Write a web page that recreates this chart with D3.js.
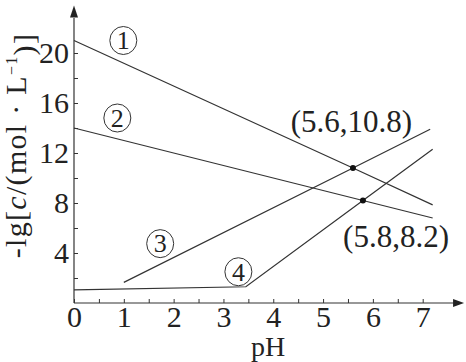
<!DOCTYPE html>
<html>
<head>
<meta charset="utf-8">
<script src="https://cdn.jsdelivr.net/npm/d3@7"></script>
<style>
  body { margin: 0; background: #fff; }
  svg { display: block; }
  .tick line { stroke: #333; stroke-width: 1; }
  .curve { fill: none; stroke: #333; stroke-width: 1.2; }
</style>
</head>
<body>
<div class="chart"></div>
<script>
var width = 466
var height = 362
var serif = "'Liberation Serif', 'Times New Roman', 'DejaVu Serif', serif"

// data
var line1 = [[0, 21], [5.6, 10.8], [7.2, 7.85]];
var line2 = [[0, 14], [5.8, 8.2], [7.2, 6.8]];
var line3 = [[1, 1.65], [5.6, 10.8], [7.15, 13.9]];
var line4 = [[0, 1.05], [3.45, 1.3], [5.8, 8.2], [7.2, 12.3]];
var curves = [line1, line2, line3, line4];
var curveNames = ["1", "2", "3", "4"];
var marked = [[5.6, 10.8], [5.8, 8.2]];
var xTicks = [0, 0.5, 1, 1.5, 2, 2.5, 3, 3.5, 4, 4.5, 5, 5.5, 6, 6.5, 7];
var yTicks = [2, 4, 6, 8, 10, 12, 14, 16, 18, 20];

var x = d3.scaleLinear().domain([0, 7]).range([74, 422.7]);
var y = d3.scaleLinear().domain([0, 20]).range([303, 53]);

var svg = d3.select(".chart").append("svg")
            .attr("width", width)
            .attr("height", height);

// axes
var xAxis = d3.axisBottom(x)
              .tickValues(xTicks)
              .tickSize(-4)
              .tickPadding(3)
              .tickFormat(function(d) { return d % 1 === 0 ? d : ""; });
var gx = svg.append("g").attr("transform", "translate(0," + y(0) + ")").call(xAxis);
gx.select(".domain").remove();
gx.selectAll("text").style("font-size", "30px").style("font-family", serif).attr("fill", "#222");

var yAxis = d3.axisLeft(y)
              .tickValues(yTicks)
              .tickSize(-4)
              .tickPadding(5)
              .tickFormat(function(d) { return d % 4 === 0 ? d : ""; });
var gy = svg.append("g").attr("transform", "translate(" + x(0) + ",0)").call(yAxis);
gy.select(".domain").remove();
gy.selectAll("text").style("font-size", "30px").style("font-family", serif).attr("fill", "#222");

// axis lines with arrows
svg.append("line")
   .attr("x1", x(0)).attr("y1", y(0))
   .attr("x2", x(7.65)).attr("y2", y(0))
   .attr("stroke", "#333").attr("stroke-width", 1.2);
svg.append("path")
   .attr("d", "M" + x(7.83) + "," + y(0) + "l-11,-4l0,8z")
   .attr("fill", "#222");
svg.append("line")
   .attr("x1", x(0)).attr("y1", y(0))
   .attr("x2", x(0)).attr("y2", y(22.8))
   .attr("stroke", "#333").attr("stroke-width", 1.2);
svg.append("path")
   .attr("d", "M" + x(0) + "," + y(23.8) + "l-4,12l8,0z")
   .attr("fill", "#222");

// curves
var lineGen = d3.line()
                .x(function(d) { return x(d[0]); })
                .y(function(d) { return y(d[1]); });

svg.selectAll("path.curve")
   .data(curves)
   .enter()
   .append("path")
   .attr("class", "curve")
   .attr("d", lineGen);

// circled curve names
var namePos = [[0.99, 21.0], [0.87, 14.8], [1.73, 4.75], [3.3, 2.5]];
var names = svg.selectAll("g.name")
               .data(curveNames)
               .enter()
               .append("g")
               .attr("class", "name")
               .attr("transform", function(d, i) {
                 return "translate(" + x(namePos[i][0]) + "," + y(namePos[i][1]) + ")";
               });
names.append("ellipse")
     .attr("rx", 13.5).attr("ry", 14)
     .attr("fill", "none").attr("stroke", "#333").attr("stroke-width", 1);
names.append("text")
     .attr("text-anchor", "middle")
     .attr("dy", "0.34em")
     .attr("fill", "#222")
     .style("font-family", serif)
     .style("font-size", "26px")
     .text(function(d) { return d; });

// marked points
svg.selectAll("circle.dot")
   .data(marked)
   .enter()
   .append("circle")
   .attr("class", "dot")
   .attr("cx", function(d) { return x(d[0]); })
   .attr("cy", function(d) { return y(d[1]); })
   .attr("r", 3)
   .attr("fill", "#111");

var labelShift = [[-0.03, 3.7], [0.665, -2.9]];
svg.selectAll("text.pt")
   .data(marked)
   .enter()
   .append("text")
   .attr("class", "pt")
   .attr("x", function(d, i) { return x(d[0] + labelShift[i][0]); })
   .attr("y", function(d, i) { return y(d[1] + labelShift[i][1]); })
   .attr("dy", "0.34em")
   .attr("text-anchor", "middle")
   .attr("fill", "#222")
   .style("font-family", serif)
   .style("font-size", "31px")
   .text(function(d) { return "(" + d[0] + "," + d[1] + ")"; });

// axis titles
svg.append("text")
   .attr("x", 268)
   .attr("y", 356)
   .attr("text-anchor", "middle")
   .attr("fill", "#222")
   .style("font-family", serif)
   .style("font-size", "28px")
   .text("pH");

var yLabel = svg.append("text")
   .attr("transform", "translate(26," + y(12.6) + ") rotate(-90)")
   .attr("text-anchor", "middle")
   .attr("fill", "#222")
   .style("font-family", serif)
   .style("font-size", "30px")
   .style("letter-spacing", "1.3px");
yLabel.append("tspan").text("-lg[");
yLabel.append("tspan").style("font-style", "italic").text("c");
yLabel.append("tspan").text("/(mol · L");
yLabel.append("tspan").attr("dy", "-0.55em").style("font-size", "16px").text("−1");
yLabel.append("tspan").attr("dy", "0.55em").text(")]");
</script>
</body>
</html>
